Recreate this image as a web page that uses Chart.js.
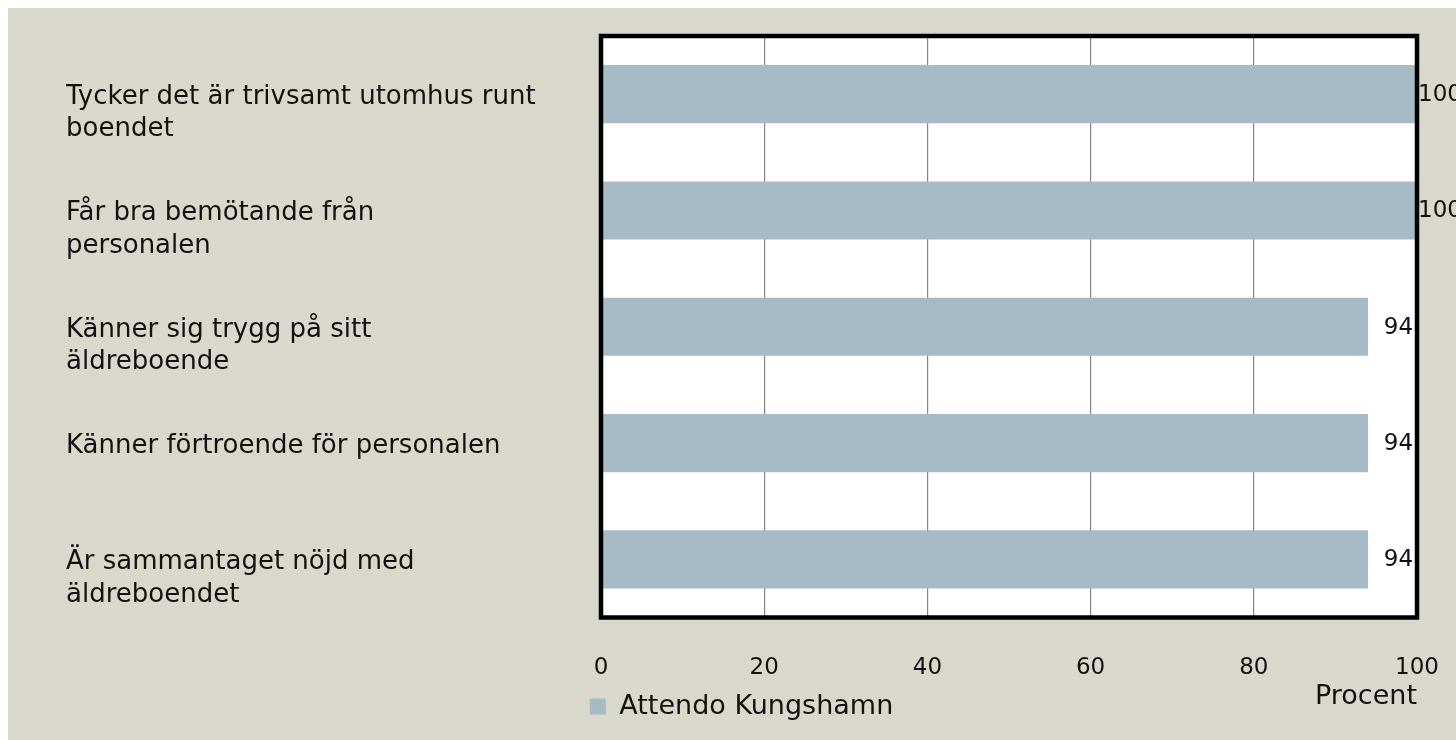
<!DOCTYPE html>
<html>
<head>
<meta charset="utf-8">
<script src="https://cdn.jsdelivr.net/npm/chart.js@4.4.1/dist/chart.umd.min.js"></script>
<style>
    html, body { margin: 0; padding: 0; background: #fff; overflow: hidden; }
    #myChart { position: absolute; left: 8px; top: 8px; display: block; background: #d9d8cc; }
</style>
</head>
<body>
<canvas id="myChart" width="1448" height="732"></canvas>
<script>
// categories, one entry per line of the label
var categories = [
    ["Tycker det är trivsamt utomhus runt", "boendet"],
    ["Får bra bemötande från", "personalen"],
    ["Känner sig trygg på sitt", "äldreboende"],
    ["Känner förtroende för personalen"],
    ["Är sammantaget nöjd med", "äldreboendet"]
];
var seriesName = "Attendo Kungshamn";
var values = [100, 100, 94, 94, 94];
var xTicks = [0, 20, 40, 60, 80, 100];
var axisTitle = "Procent";

var barColor = "#a7bbc6";
var font = "'DejaVu Sans'";

// white plot background, thick frame and the value labels at the bar ends
var frameAndLabels = {
    id: "frameAndLabels",
    beforeDraw: function (chart) {
        var a = chart.chartArea;
        chart.ctx.save();
        chart.ctx.fillStyle = "#fff";
        chart.ctx.fillRect(a.left, a.top, a.right - a.left, a.bottom - a.top);
        chart.ctx.restore();
    },
    afterDatasetsDraw: function (chart) {
        var ctx = chart.ctx;
        var a = chart.chartArea;
        ctx.save();
        ctx.strokeStyle = "#000";
        ctx.lineWidth = 4.5;
        ctx.strokeRect(a.left, a.top, a.right - a.left, a.bottom - a.top);

        ctx.fillStyle = "#111";
        ctx.font = "23px " + font;
        ctx.textAlign = "right";
        ctx.textBaseline = "middle";
        chart.getDatasetMeta(0).data.forEach(function (bar, i) {
            ctx.fillText(String(values[i]), bar.x + 45, bar.y + 1);
        });
        ctx.restore();
    }
};

var ctx = document.getElementById("myChart").getContext("2d");
var myBarChart = new Chart(ctx, {
    type: "bar",
    data: {
        labels: categories.map(function (c) { return c.join(" "); }),
        datasets: [
            {
                label: seriesName,
                data: values,
                backgroundColor: barColor,
                borderWidth: 0,
                barPercentage: 0.5,
                categoryPercentage: 1.0
            }
        ]
    },
    options: {
        indexAxis: "y",
        responsive: false,
        animation: false,
        layout: {
            padding: { left: 58, top: 28, right: 39, bottom: 10 }
        },
        plugins: {
            tooltip: { enabled: false },
            legend: {
                position: "bottom",
                labels: {
                    color: "#111",
                    font: { family: font, size: 27 },
                    boxWidth: 16,
                    boxHeight: 16,
                    padding: 10
                }
            }
        },
        scales: {
            x: {
                min: 0,
                max: 100,
                afterBuildTicks: function (scale) {
                    scale.ticks = xTicks.map(function (v) { return { value: v }; });
                },
                afterFit: function (scale) {
                    scale.height = 65.5;
                    scale.paddingLeft = 0;
                    scale.paddingRight = 0;
                },
                grid: { color: "#858585", lineWidth: 1.2, drawTicks: false },
                border: { display: false },
                ticks: {
                    color: "#111",
                    font: { family: font, size: 23 },
                    padding: 37,
                    maxRotation: 0
                },
                title: {
                    display: true,
                    text: axisTitle,
                    align: "end",
                    color: "#111",
                    font: { family: font, size: 27 },
                    padding: { top: 4, bottom: -30 }
                }
            },
            y: {
                afterFit: function (scale) {
                    scale.width = 535;
                    scale.paddingTop = 0;
                    scale.paddingBottom = 0;
                },
                grid: { display: false },
                border: { display: false },
                ticks: {
                    color: "#111",
                    crossAlign: "far",
                    labelOffset: 3,
                    font: { family: font, size: 26, lineHeight: 1.25 },
                    callback: function (value, index) {
                        var lines = categories[index];
                        return lines.length > 1 ? [""].concat(lines) : lines[0];
                    }
                }
            }
        }
    },
    plugins: [frameAndLabels]
});
</script>
</body>
</html>
